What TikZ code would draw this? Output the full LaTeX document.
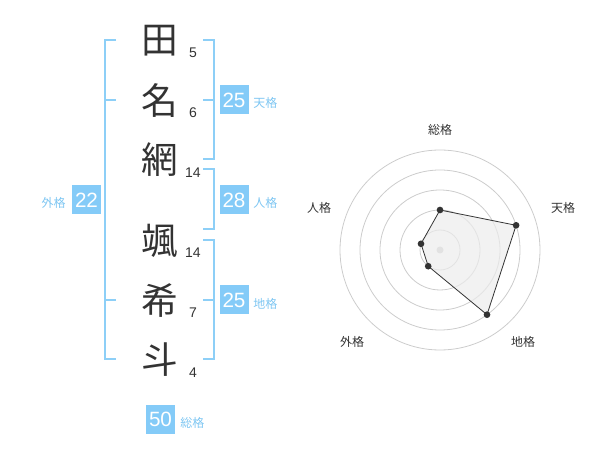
\documentclass[tikz,border=0pt]{standalone}
\usepackage{fontspec}
\setmainfont{Liberation Sans}
\newfontfamily\cjk{Noto Sans CJK JP}
\definecolor{kblue}{HTML}{84CBF8}
\definecolor{lblue}{HTML}{8DCFF7}
\definecolor{labblue}{HTML}{7EC6F2}
\definecolor{txt}{HTML}{333333}
\definecolor{ring}{HTML}{CCCCCC}
\begin{document}
\begin{tikzpicture}[x=0.75pt,y=-0.75pt,
  ch/.style={font=\cjk\fontsize{27.5}{27.5}\selectfont, text=txt, inner sep=0pt},
  num/.style={font=\fontsize{10.5}{10.5}\selectfont, text=txt, inner sep=0pt},
  vbox/.style={fill=kblue, text=white, minimum width=21.75pt, minimum height=21.75pt, inner sep=0pt, font=\fontsize{15.5}{15.5}\selectfont},
  lab/.style={font=\cjk\fontsize{9}{9}\selectfont, text=labblue, inner sep=0pt},
  rlab/.style={font=\cjk\fontsize{9}{9}\selectfont, text=txt, inner sep=0pt},
  br/.style={draw=lblue, line width=1.5pt},
  ringline/.style={draw=ring, line width=0.6pt},
  dot/.style={circle, fill=txt, inner sep=0pt, minimum size=5pt}]
\useasboundingbox (0,0) rectangle (600,470);
% characters
\node[ch] (c1) at (160,41) {田};
\node[ch] (c2) at (160,101) {名};
\node[ch] (c3) at (160,160) {網};
\node[ch] (c4) at (160,241) {颯};
\node[ch] (c5) at (160,301) {希};
\node[ch] (c6) at (160,360) {斗};
% stroke numbers
\node[num] (n1) at (193,53) {5};
\node[num] (n2) at (193,113) {6};
\node[num] (n3) at (193,173) {14};
\node[num] (n4) at (193,253) {14};
\node[num] (n5) at (193,313) {7};
\node[num] (n6) at (193,373) {4};
% brackets
\draw[br] (116,40) -- (105,40) -- (105,359) -- (116,359);
\draw[br] (105,100) -- (116,100);
\draw[br] (105,300) -- (116,300);
\draw[br] (203,40) -- (214,40) -- (214,159) -- (203,159);
\draw[br] (214,100) -- (203,100);
\draw[br] (203,169) -- (214,169) -- (214,229) -- (203,229);
\draw[br] (203,240) -- (214,240) -- (214,359) -- (203,359);
\draw[br] (214,300) -- (203,300);
% boxes and labels
\node[vbox] (ten) at (234,100) {25};
\node[lab,anchor=west] (tenl) at (253,103) {天格};
\node[vbox] (jin) at (234,200) {28};
\node[lab,anchor=west] (jinl) at (253,203) {人格};
\node[vbox] (chi) at (234,300) {25};
\node[lab,anchor=west] (chil) at (253,304) {地格};
\node[vbox] (gai) at (86.5,200) {22};
\node[lab,anchor=east] (gail) at (66,203) {外格};
\node[vbox] (sou) at (160.5,419) {50};
\node[lab,anchor=west] (soul) at (180,423) {総格};
% radar
\coordinate (cen) at (440,250);
\foreach \r in {20,40,60,80,100} \draw[ringline] (cen) circle (\r);
\fill[ring] (cen) circle (3.5);
\coordinate (p1) at (440,210);
\coordinate (p2) at (516.1,225.3);
\coordinate (p3) at (487.0,314.7);
\coordinate (p4) at (428.2,266.2);
\coordinate (p5) at (421.0,243.8);
\filldraw[fill=gray!15, fill opacity=0.7, draw=txt, line width=0.6pt] (p1) -- (p2) -- (p3) -- (p4) -- (p5) -- cycle;
\foreach \p in {p1,p2,p3,p4,p5} \node[dot] at (\p) {};
\node[rlab] (r1) at (440,130) {総格};
\node[rlab] (r2) at (563,208) {天格};
\node[rlab] (r3) at (523,342) {地格};
\node[rlab] (r4) at (352,342) {外格};
\node[rlab] (r5) at (319,208) {人格};
\end{tikzpicture}
\end{document}
